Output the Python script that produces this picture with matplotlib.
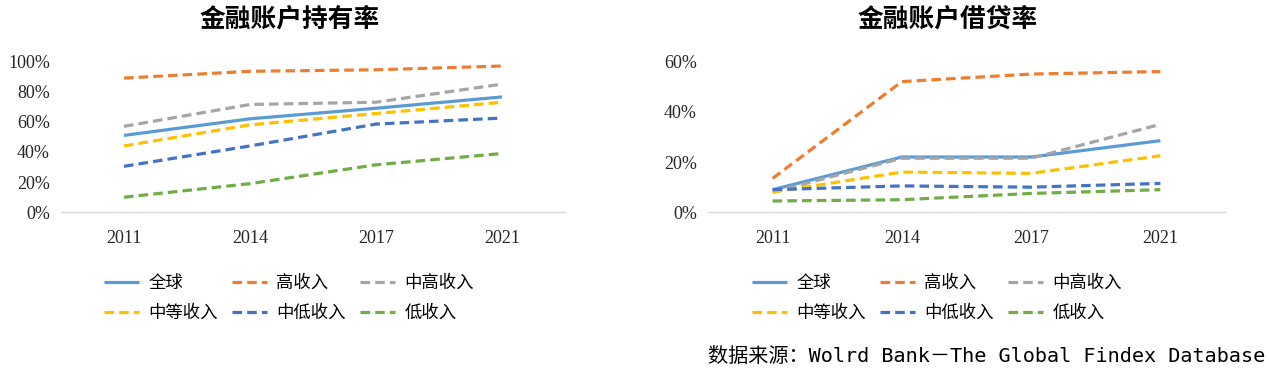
import matplotlib
matplotlib.use("Agg")
import matplotlib.pyplot as plt
from matplotlib.ticker import FuncFormatter

plt.rcParams['font.family'] = ['Noto Sans CJK SC', 'DejaVu Sans']

years = ["2011", "2014", "2017", "2021"]
series = ["全球", "高收入", "中高收入", "中等收入", "中低收入", "低收入"]
colors = ["#5B9BD5", "#ED7D31", "#A5A5A5", "#FFC000", "#4472C4", "#70AD47"]

# 金融账户持有率 (%)
own_global = [51, 62, 69, 76.5]
own_high = [89, 93.5, 94.5, 97]
own_upper_mid = [57, 71.5, 73, 85]
own_mid = [44, 58, 65.5, 73]
own_lower_mid = [30.5, 44, 58.5, 62.5]
own_low = [10, 19, 31.5, 39]

# 金融账户借贷率 (%)
bor_global = [9, 22, 22, 28.5]
bor_high = [13.5, 52, 55, 56]
bor_upper_mid = [8, 21.5, 21.5, 35]
bor_mid = [8, 16, 15.5, 22.5]
bor_lower_mid = [9, 10.5, 10, 11.5]
bor_low = [4.5, 5, 7.5, 9]

own = [own_global, own_high, own_upper_mid, own_mid, own_lower_mid, own_low]
bor = [bor_global, bor_high, bor_upper_mid, bor_mid, bor_lower_mid, bor_low]

fig = plt.figure(figsize=(12.69, 3.72), dpi=100)
ax1 = fig.add_axes([61 / 1269, 1 - 212.3 / 372, 504 / 1269, 150.8 / 372])
ax2 = fig.add_axes([708 / 1269, 1 - 212.3 / 372, 517 / 1269, 150.8 / 372])


def draw(ax, data, ymax, step, title, title_x):
    x = range(len(years))
    lines = []
    for i, (name, vals) in enumerate(zip(series, data)):
        if i == 0:
            ln, = ax.plot(x, vals, color=colors[i], lw=2.3, label=name, solid_capstyle="butt")
        else:
            ln, = ax.plot(x, vals, color=colors[i], lw=2.3, label=name,
                          dashes=(3.0, 1.6), dash_capstyle="butt")
        lines.append(ln)
    ax.set_xlim(-0.5, len(years) - 0.5)
    ax.set_ylim(0, ymax)
    ax.set_yticks(range(0, ymax + 1, step))
    ax.yaxis.set_major_formatter(FuncFormatter(lambda v, p: f"{int(v)}%"))
    ax.set_xticks(list(x))
    ax.set_xticklabels(years)
    ax.tick_params(axis="both", length=0, labelsize=13,
                   labelfontfamily="Liberation Serif", labelcolor="#262626")
    ax.tick_params(axis="x", pad=13)
    ax.tick_params(axis="y", pad=8)
    for s in ["top", "right", "left"]:
        ax.spines[s].set_visible(False)
    ax.spines["bottom"].set_color("#D9D9D9")
    ax.spines["bottom"].set_linewidth(1)
    fig.text(title_x, 1 - 19 / 372, title, ha="center", va="center",
             fontsize=18.5, fontweight="bold", color="#000000")
    # row-wise order like the original legend
    order = [0, 3, 1, 4, 2, 5]
    ax.legend([lines[k] for k in order], [series[k] for k in order],
              loc="upper left", bbox_to_anchor=(0.085, -0.41), ncol=3,
              frameon=False, fontsize=12.5, handlelength=2.0, handletextpad=0.55,
              columnspacing=0.83, labelspacing=0.68, borderpad=0, borderaxespad=0)


draw(ax1, own, 100, 20, "金融账户持有率", 290 / 1269)
draw(ax2, bor, 60, 20, "金融账户借贷率", 948 / 1269)

fig.text(1265 / 1269, 1 - 357 / 372, "数据来源：Wolrd Bank－The Global Findex Database",
         ha="right", va="center", fontsize=14.5,
         family=["DejaVu Sans Mono", "Noto Sans CJK SC"], color="#000000")

fig.savefig("out.png", dpi=100)
